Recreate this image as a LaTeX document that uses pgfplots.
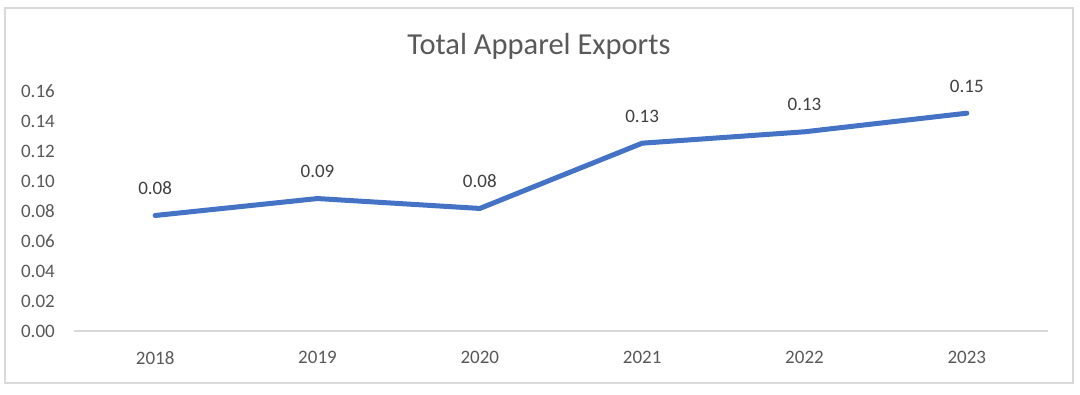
\documentclass[border=0pt]{standalone}
\usepackage{fontspec}
\setmainfont{Carlito}
\usepackage{pgfplots}
\pgfplotsset{compat=1.18}
\definecolor{excelblue}{HTML}{4472C4}
\definecolor{ticktext}{HTML}{595959}
\definecolor{labeltext}{HTML}{404040}
\definecolor{framegray}{HTML}{D9D9D9}
\begin{document}
\begin{tikzpicture}
\fill[white] (0pt,0pt) rectangle (1080pt,394pt);
\draw[framegray, line width=1.5pt] (5pt,11pt) rectangle (1073pt,386pt);
\node[anchor=base, text=ticktext, inner sep=0pt, font=\fontsize{30.5}{36}\selectfont] at (539pt,339pt) {Total Apparel Exports};
\begin{axis}[
  at={(74pt,63pt)}, anchor=south west,
  scale only axis, width=974pt, height=240pt,
  xmin=-0.5, xmax=5.5, ymin=0, ymax=0.16,
  axis x line*=bottom, axis y line*=left,
  y axis line style={draw=none},
  x axis line style={framegray, line width=1.5pt, -},
  major tick length=0pt,
  tick style={draw=none},
  xtick={0,1,2,3,4,5},
  xticklabels={2018,2019,2020,2021,2022,2023},
  ytick={0,0.02,0.04,0.06,0.08,0.10,0.12,0.14,0.16},
  /pgf/number format/assume math mode=true,
  /pgf/number format/fixed,
  /pgf/number format/fixed zerofill,
  /pgf/number format/precision=2,
  tick label style={font=\fontsize{19}{23}\selectfont, text=ticktext, inner sep=0pt},
  yticklabel style={anchor=east, xshift=-19pt},
  xticklabel style={anchor=north, yshift=-20pt},
  clip=false,
]
\addplot[excelblue, line width=5pt, line join=round, line cap=round, mark=none,
  nodes near coords,
  every node near coord/.append style={anchor=center, yshift=27pt, text=labeltext,
    font=\fontsize{19}{23}\selectfont, inner sep=0pt}]
coordinates {
  (0,0.0770)
  (1,0.0883)
  (2,0.0817)
  (3,0.1252)
  (4,0.1328)
  (5,0.1452)
};
\end{axis}
\end{tikzpicture}
\end{document}
